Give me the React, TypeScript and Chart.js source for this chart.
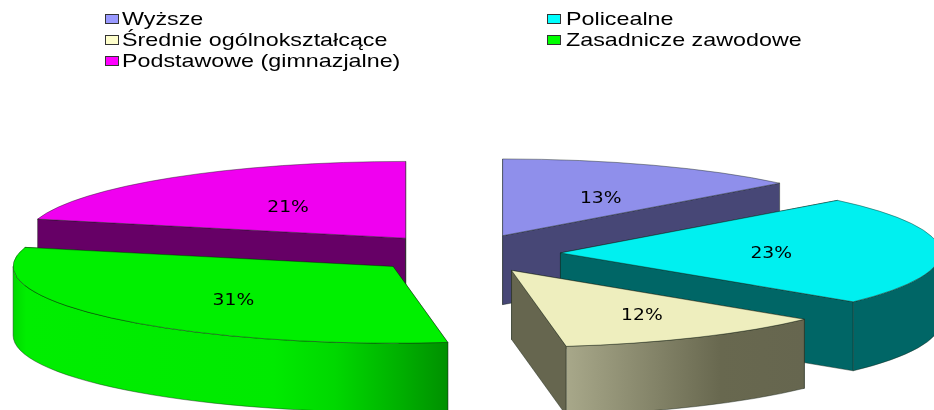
import React, { useEffect, useRef } from "react";
import { Chart, registerables } from "chart.js";

Chart.register(...registerables);

const categories = ["Wyższe", "Policealne", "Średnie ogólnokształcące", "Zasadnicze zawodowe", "Podstawowe (gimnazjalne)"];
const shares = [13, 23, 11.7, 31.3, 21];
const faceColors = ["#8F8FEB", "#00F0F0", "#EEEEBE", "#00F000", "#F000F0"];
const legendColors = ["#9999FF", "#00FFFF", "#FFFFCC", "#00FF00", "#FF00FF"];
const wallColors = ["#474776", "#006666", "#66664F", "#007800", "#660066"];
const wallStops: [number, string][][] = [
  [[0, "#474776"], [1, "#474776"]],
  [[0, "#006666"], [1, "#006666"]],
  [[0, "#A8A88A"], [0.65, "#68684F"], [1, "#66664F"]],
  [[0, "#00D800"], [0.03, "#00EE00"], [0.6, "#00EA00"], [0.74, "#00D800"], [0.89, "#00B000"], [1, "#009000"]],
  [[0, "#660066"], [1, "#660066"]],
];
const paintOrder = [4, 0, 1, 3, 2];
const labelFractions = [[0.65, 0.54], [0.555, 0.6], [0.7, 0.66], [0.565, 0.66], [0.505, 0.51]];
const labelDrop = [1, 2, 1, 1, 1];

const SQUASH = 0.202;
const EXPLODE = 96;
const DEPTH = 69;
const RADIUS = 380;

const pie3d = {
  id: "pie3d",
  beforeDatasetsDraw(chart: any) {
    const ctx: CanvasRenderingContext2D = chart.ctx;
    const arcs = chart.getDatasetMeta(0).data;
    const outline = "rgba(20,30,20,0.42)";
    for (const i of paintOrder) {
      const arc = arcs[i];
      const { x, y, startAngle: a1, endAngle: a2, outerRadius: r } = arc;
      const mid = (a1 + a2) / 2;
      const ax = x + Math.cos(mid) * EXPLODE;
      const ay = y + Math.sin(mid) * EXPLODE * SQUASH;
      const ry = r * SQUASH;
      const px = (a: number) => ax + Math.cos(a) * r;
      const py = (a: number) => ay + Math.sin(a) * ry;

      ctx.save();
      ctx.lineWidth = 1;
      ctx.strokeStyle = outline;
      // radial walls
      for (const a of [a1, a2]) {
        ctx.beginPath();
        ctx.moveTo(ax, ay);
        ctx.lineTo(px(a), py(a));
        ctx.lineTo(px(a), py(a) + DEPTH);
        ctx.lineTo(ax, ay + DEPTH);
        ctx.closePath();
        ctx.fillStyle = wallColors[i];
        ctx.fill();
        ctx.stroke();
      }
      // outer wall, front half only
      const s = Math.max(a1, 0);
      const e = Math.min(a2, Math.PI);
      if (s < e) {
        const x0 = Math.min(px(a1), px(e));
        const x1 = Math.max(px(s), px(e));
        const g = ctx.createLinearGradient(x0, 0, x1, 0);
        wallStops[i].forEach(([t, c]) => g.addColorStop(t, c));
        ctx.beginPath();
        ctx.ellipse(ax, ay, r, ry, 0, s, e);
        ctx.ellipse(ax, ay + DEPTH, r, ry, 0, e, s, true);
        ctx.closePath();
        ctx.fillStyle = g;
        ctx.fill();
        ctx.stroke();
      }
      ctx.restore();

      // top face: the library's own arc, under a squashing transform
      ctx.save();
      ctx.translate(ax, ay);
      ctx.scale(1, SQUASH);
      ctx.translate(-x, -y);
      arc.draw(ctx);
      ctx.restore();

      ctx.save();
      ctx.lineWidth = 1;
      ctx.strokeStyle = outline;
      ctx.beginPath();
      ctx.moveTo(ax, ay);
      ctx.ellipse(ax, ay, r, ry, 0, a1, a2);
      ctx.closePath();
      ctx.stroke();
      ctx.restore();
    }
    arcs.forEach((arc: any, i: number) => {
      const mid = (arc.startAngle + arc.endAngle) / 2;
      const ax = arc.x + Math.cos(mid) * EXPLODE;
      const ay = arc.y + Math.sin(mid) * EXPLODE * SQUASH;
      const [fx, fy] = labelFractions[i];
      const lx = ax + Math.cos(mid) * arc.outerRadius * fx;
      const ly = ay + Math.sin(mid) * arc.outerRadius * SQUASH * fy + labelDrop[i];
      ctx.save();
      ctx.translate(lx, ly);
      ctx.scale(1.17, 1);
      ctx.font = "16px 'DejaVu Sans'";
      ctx.fillStyle = "#000";
      ctx.textAlign = "center";
      ctx.textBaseline = "middle";
      ctx.fillText(`${Math.round(shares[i])}%`, 0, 0);
      ctx.restore();
    });
    return false;
  },
};

const legendSlots = [
  [105, 14], [547, 14], [105, 35], [547, 35], [105, 56],
];
const legendTextGap = [16.5, 18.5, 16.5, 18.5, 16.5];

export default function App() {
  const ref = useRef<HTMLCanvasElement>(null);
  useEffect(() => {
    document.body.style.margin = "0";
    const chart = new Chart(ref.current!, {
      type: "pie",
      data: {
        labels: categories,
        datasets: [{ data: shares, backgroundColor: faceColors, borderWidth: 0 }],
      },
      options: {
        responsive: false,
        animation: false,
        radius: RADIUS,
        events: [],
        layout: { padding: { top: 97, right: 5, left: 0, bottom: 0 } },
        plugins: { legend: { display: false }, tooltip: { enabled: false } },
      } as any,
      plugins: [pie3d],
    });
    return () => chart.destroy();
  }, []);
  return (
    <div style={{ position: "relative", width: 934, height: 410, overflow: "hidden", background: "#fff" }}>
      <canvas ref={ref} width={934} height={410} style={{ display: "block" }} />
      {categories.map((c, i) => (
        <React.Fragment key={c}>
          <div
            style={{
              position: "absolute", left: legendSlots[i][0], top: legendSlots[i][1], width: 12, height: 8,
              background: legendColors[i], border: "1px solid #333",
            }}
          />
          <div
            style={{
              position: "absolute", left: legendSlots[i][0] + legendTextGap[i], top: legendSlots[i][1] - 6,
              fontFamily: "'Liberation Sans'", fontSize: 19, lineHeight: "21px", whiteSpace: "nowrap",
              color: "#000", transform: "scaleX(1.226)", transformOrigin: "left top",
            }}
          >
            {c}
          </div>
        </React.Fragment>
      ))}
    </div>
  );
}
